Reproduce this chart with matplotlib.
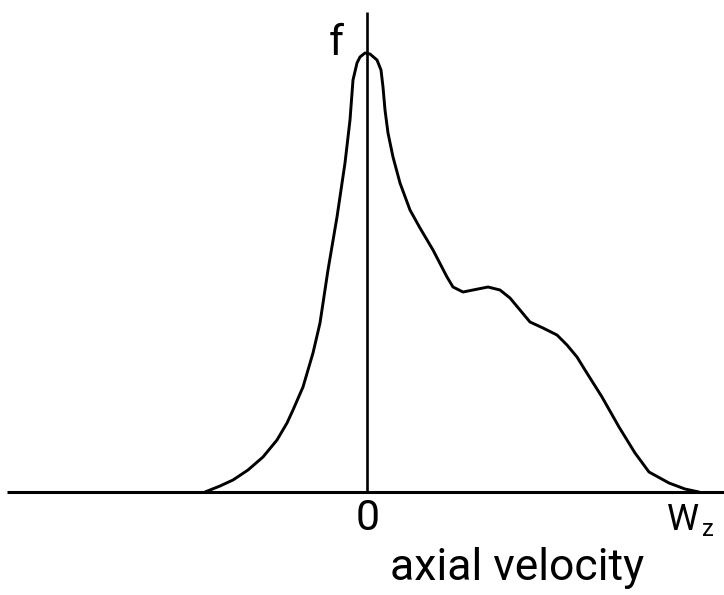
import matplotlib.pyplot as plt

# axial velocity (arbitrary units, 0 at the vertical axis) and distribution f
velocity = [-162, -147, -134, -119, -104, -90, -80, -74, -64, -54, -47, -39, -30,
            -22, -17, -14, -10, -7, -2, 3, 10, 14, 16, 18, 21, 26, 33, 43, 53,
            66, 80, 86, 96, 106, 121, 133, 143, 153, 163, 176, 190, 200, 210,
            218, 235, 252, 268, 282, 302, 318, 332]
f_values = [0, 6, 12, 22, 35, 52, 69, 82, 105, 139, 169, 222, 275,
            329, 372, 412, 429, 435, 439, 438, 432, 422, 405, 382, 359, 335, 309, 282, 264,
            242, 215, 205, 200, 202, 205, 202, 194, 182, 170, 164, 157, 147, 135,
            122, 95, 65, 39, 20, 9, 3, 0]

x_label = "axial velocity"
y_label = "f"
zero_label = "0"
end_label = "W"
end_sub = "z"


def main():
    fig = plt.figure(figsize=(7.24, 5.95), dpi=100)
    ax = fig.add_axes([0, 0, 1, 1])
    ax.set_xlim(-367, 357)
    ax.set_ylim(-103, 492)
    ax.axis("off")

    # axes drawn by hand like the sketch
    ax.plot([-360, 357], [0, 0], color="black", linewidth=2.2, solid_capstyle="butt")
    ax.plot([0, 0], [0, 480], color="black", linewidth=1.9, solid_capstyle="butt")

    # the distribution curve
    ax.plot(velocity, f_values, color="black", linewidth=2.1,
            solid_joinstyle="round", solid_capstyle="round")

    # labels
    font = dict(family="Roboto", fontweight="normal")
    ax.text(-31, 437, y_label, fontsize=31, ha="center", va="baseline", **font)
    ax.text(1, -38, zero_label, fontsize=31, ha="center", va="baseline", **font)
    ax.text(300, -38, end_label, fontsize=26, ha="left", va="baseline", **font)
    ax.text(335, -44, end_sub, fontsize=17, ha="left", va="baseline", **font)
    ax.text(150, -88, x_label, fontsize=32, ha="center", va="baseline", **font)

    fig.savefig("out.png", dpi=100)


main()
